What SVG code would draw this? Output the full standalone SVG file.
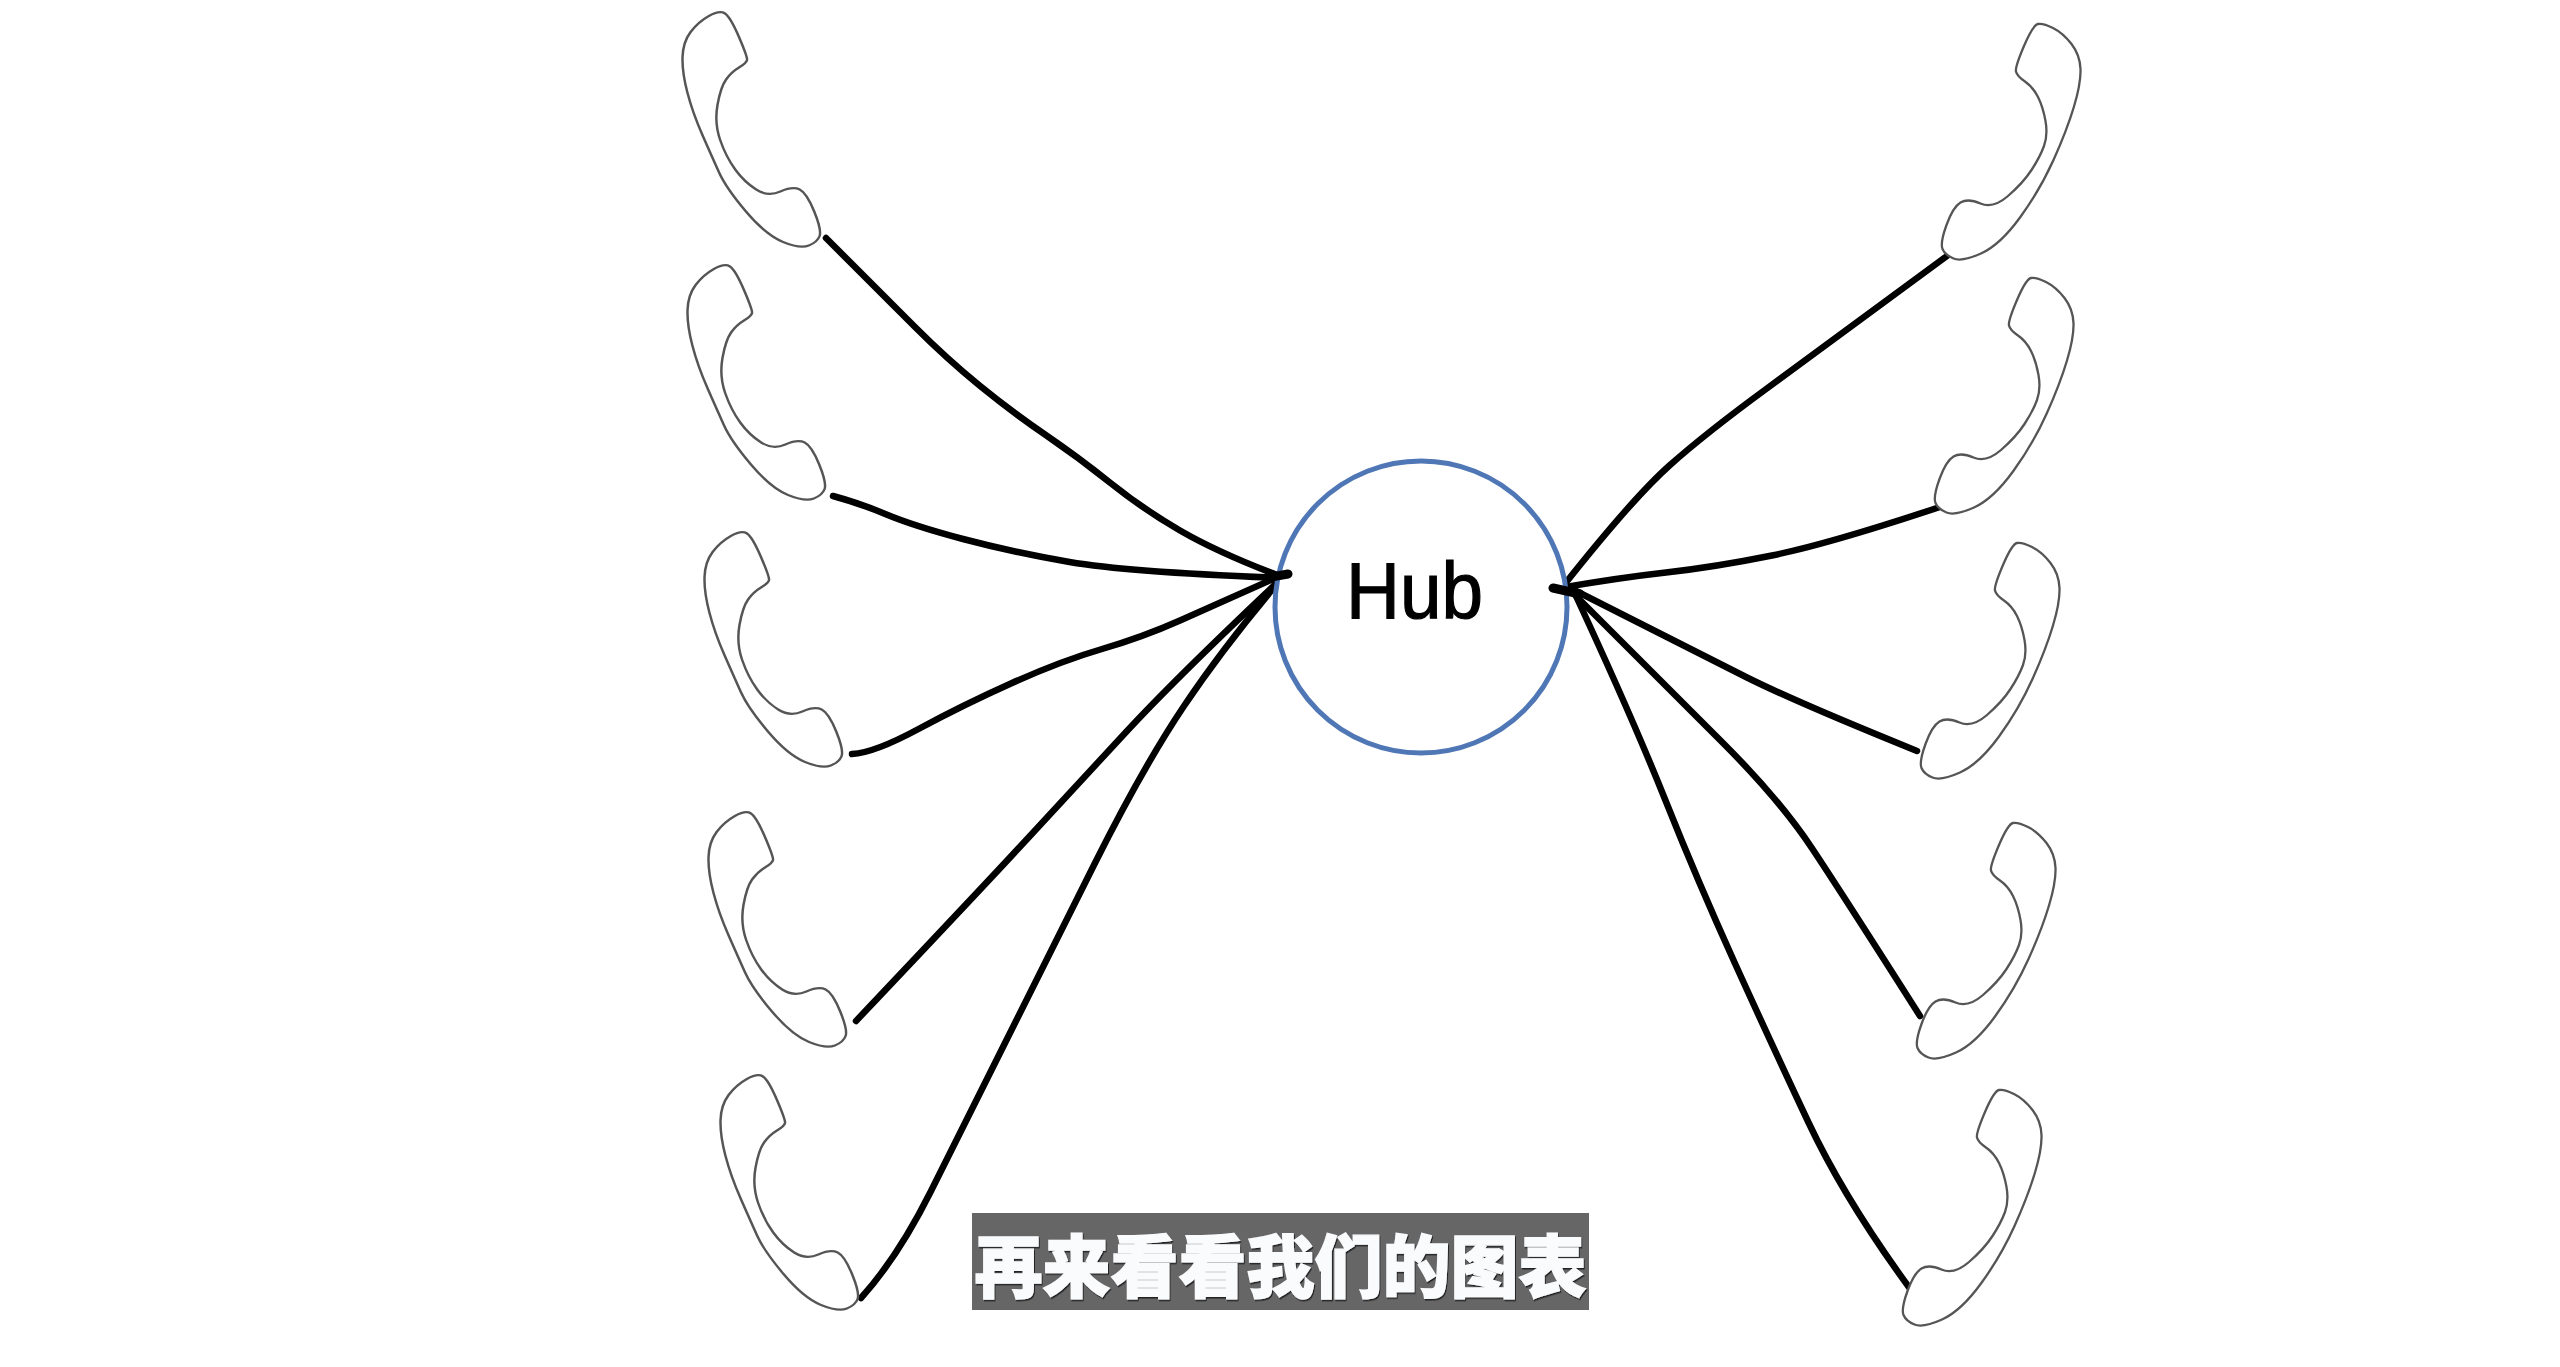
<svg xmlns="http://www.w3.org/2000/svg" xmlns:xlink="http://www.w3.org/1999/xlink" width="2560" height="1367" viewBox="0 0 2560 1367">
<style>
.phone{fill:#fff;stroke:#555;stroke-width:2.3;stroke-linejoin:round}
.wire{fill:none;stroke:#000;stroke-width:6.5;stroke-linecap:round;stroke-linejoin:round}
.hub{fill:#fff;stroke:#4f77b5;stroke-width:5}
.hubtext{font-family:"Liberation Sans",sans-serif;font-size:80px;fill:#000;stroke:#000;stroke-width:1.2}
.caption{font-family:"Noto Sans CJK SC",sans-serif;font-size:68px;font-weight:900;fill:#fafbfd;stroke:#fafbfd;stroke-width:1.4;filter:url(#shadow)}
</style>
<defs>
<filter id="shadow" x="-5%" y="-20%" width="110%" height="140%"><feDropShadow dx="1" dy="1.5" stdDeviation=".6" flood-color="#222"/></filter>
<path id="phoneL" class="phone" transform="translate(682 0) scale(1.075 1) translate(-682 0)" d="M707 16Q717 10 722 13.5Q727 17 735 37Q743 57 742.5 60Q742 63 735 67.5Q728 72 723 79.5Q718 87 715 105Q712 123 717.5 140Q723 157 731.5 169.5Q740 182 751 189.5Q762 197 773.5 191.5Q785 186 791.5 189.5Q798 193 805 211.5Q812 230 810 236Q808 242 800 245.5Q792 249 776 242Q760 235 741.5 211.5Q723 188 716.5 172.5Q710 157 701 135Q692 113 687 92.5Q682 72 682.5 57Q683 42 690 32Q697 22 707 16Z"/>
<path id="phoneR" class="phone" d="M2053 28Q2043 23 2038 24Q2033 25 2024 46Q2015 67 2016 71.5Q2017 76 2025 81.5Q2033 87 2038 97Q2043 107 2045.5 121Q2048 135 2044 146Q2040 157 2031.5 170Q2023 183 2008 196Q1993 209 1980.5 203.5Q1968 198 1960.5 202.5Q1953 207 1946.5 225Q1940 243 1942.5 249Q1945 255 1953.5 258.5Q1962 262 1981 253.5Q2000 245 2020 217.5Q2040 190 2053.5 160Q2067 130 2074 106.5Q2081 83 2080.5 69Q2080 55 2071.5 44Q2063 33 2053 28Z"/>
</defs>
<rect width="2560" height="1367" fill="#fff"/>
<g id="connectors">
<path class="wire" d="M826 238Q882 294 914.5 326.5Q947 359 979.5 385.5Q1012 412 1045 434.5Q1078 457 1110.5 483Q1143 509 1180 530.5Q1217 552 1277 575"/>
<path class="wire" d="M833 496Q859 503 886.5 514.5Q914 526 963 539Q1012 552 1069.5 562Q1127 572 1282 578"/>
<path class="wire" d="M852 754Q874 753 918.5 729Q963 705 1012 683Q1061 661 1102 649Q1143 637 1180 620.5Q1217 604 1282 575"/>
<path class="wire" d="M856 1021Q980 890 1029 837Q1078 784 1127 731Q1176 678 1282 578"/>
<path class="wire" d="M861 1298Q898 1257 930.5 1192Q963 1127 1004 1045Q1045 963 1094 865Q1143 767 1184 706Q1225 645 1282 578"/>
<path class="wire" d="M1947 256Q1829 343 1767.5 388Q1706 433 1669.5 465.5Q1633 498 1564 585"/>
<path class="wire" d="M1943 506Q1829 544 1772 555.5Q1715 567 1666 572.5Q1617 578 1560 588"/>
<path class="wire" d="M1917 751Q1796 702 1747 677.5Q1698 653 1576 591"/>
<path class="wire" d="M1920 1016Q1845 898 1812.5 849Q1780 800 1723 743Q1666 686 1576 596"/>
<path class="wire" d="M1911 1290Q1845 1200 1808.5 1122.5Q1772 1045 1735 963.5Q1698 882 1665.5 800.5Q1633 719 1576 596"/>
</g>
<g id="phone-left-1"><use xlink:href="#phoneL" href="#phoneL"/></g>
<g id="phone-left-2"><use xlink:href="#phoneL" href="#phoneL" x="5" y="253"/></g>
<g id="phone-left-3"><use xlink:href="#phoneL" href="#phoneL" x="22" y="520"/></g>
<g id="phone-left-4"><use xlink:href="#phoneL" href="#phoneL" x="26" y="800"/></g>
<g id="phone-left-5"><use xlink:href="#phoneL" href="#phoneL" x="38" y="1063"/></g>
<g id="phone-right-1"><use xlink:href="#phoneR" href="#phoneR"/></g>
<g id="phone-right-2"><use xlink:href="#phoneR" href="#phoneR" x="-7" y="254"/></g>
<g id="phone-right-3"><use xlink:href="#phoneR" href="#phoneR" x="-21" y="519"/></g>
<g id="phone-right-4"><use xlink:href="#phoneR" href="#phoneR" x="-25" y="799"/></g>
<g id="phone-right-5"><use xlink:href="#phoneR" href="#phoneR" x="-39" y="1066"/></g>
<g id="hub">
<circle class="hub" cx="1421" cy="607" r="146"/>
<text class="hubtext" x="1346" y="618" textLength="137" lengthAdjust="spacingAndGlyphs">Hub</text>
</g>
<g id="knots">
<path class="wire" d="M1266 578L1288 574M1553 588L1580 594" style="stroke-width:9"/>
</g>
<g id="caption">
<rect x="972" y="1213" width="617" height="97" fill="#666"/>
<text class="caption" x="1280.5" y="1292" text-anchor="middle">再来看看我们的图表</text>
</g>
</svg>
